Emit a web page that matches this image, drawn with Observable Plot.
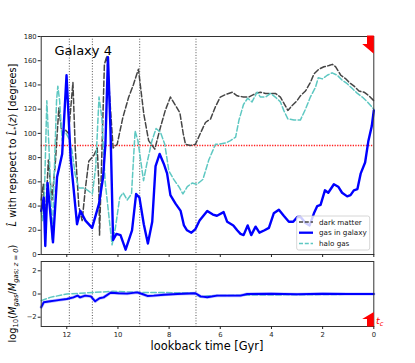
<!DOCTYPE html>
<html>
<head>
<meta charset="utf-8">
<script src="https://cdn.jsdelivr.net/npm/d3@7"></script>
<script src="https://cdn.jsdelivr.net/npm/@observablehq/plot@0.6"></script>
<style>
  html, body { margin: 0; padding: 0; background: #fff; }
  #chart { position: relative; width: 415px; height: 363px; font-family: "DejaVu Sans", sans-serif; }
  #chart svg { display: block; position: absolute; left: 0; }
</style>
</head>
<body>
<div id="chart"></div>
<script>
// ---------- data ----------
const galaxyName = "Galaxy 4";
const seriesNames = ["dark matter", "gas in galaxy", "halo gas"];

const dmTime  = [13.0,12.92,12.84,12.72,12.58,12.45,12.31,12.19,12.06,11.93,11.76,11.67,11.53,11.4,11.27,11.14,10.94,10.81,10.75,10.72,10.62,10.53,10.43,10.19,10.03,9.81,9.58,9.4,9.2,8.99,8.8,8.56,8.34,8.15,7.95,7.75,7.58,7.45,7.36,7.17,6.97,6.78,6.58,6.38,6.19,6.0,5.8,5.53,5.34,5.09,4.89,4.62,4.43,4.23,4.03,3.85,3.65,3.49,3.36,3.19,3.0,2.87,2.67,2.48,2.34,2.15,1.95,1.75,1.62,1.49,1.29,1.09,0.96,0.77,0.58,0.38,0.19,0];
const dmAngle = [45,58,28,78,45,75,121,100,103,100,142,88,40,28,55,77,82,88,60,16,90,157,164,88,91,113,130,140,153,116,94,87,105,119,130,123,117,100,91,90,91,100,109,112,122,130,132,134,131,130,130,133,134,133,133,133,130,124,119,123,127,131,135,142,149,153,155,156,157,155,148,145,142,139,135,134,131,127];

const gasTime  = [13.0,12.9,12.84,12.75,12.54,12.38,12.18,12.01,11.85,11.6,11.47,11.27,11.01,10.74,10.58,10.49,10.39,10.29,10.19,10.06,9.9,9.7,9.45,9.29,9.16,8.99,8.83,8.66,8.53,8.37,8.21,8.08,7.95,7.75,7.55,7.42,7.3,7.13,6.97,6.81,6.51,6.29,6.13,5.87,5.73,5.49,5.34,5.21,5.09,4.93,4.79,4.62,4.47,4.27,4.1,3.91,3.71,3.52,3.32,3.15,2.99,2.86,2.67,2.51,2.34,2.21,2.08,1.91,1.78,1.56,1.39,1.24,1.04,0.91,0.78,0.64,0.51,0.34,0.21,0.08,0];
const gasAngle = [36,47,7,59,10,64,83,148,80,25,36,28,22,42,64,91,163,102,12,17,16,4,20,50,47,25,9,27,73,83,75,67,49,42,36,24,20,18,21,28,36,33,32,35,27,24,20,17,16,24,16,23,18,20,22,34,37,32,27,27,31,31,26,24,34,40,41,53,51,58,56,51,48,49,53,54,67,76,94,106,119];

const haloTime  = [13.0,12.95,12.88,12.78,12.7,12.64,12.57,12.5,12.4,12.35,12.28,12.18,12.1,12.0,11.9,11.8,11.67,11.53,11.36,11.18,11.0,10.87,10.74,10.63,10.5,10.23,10.1,9.93,9.8,9.64,9.47,9.33,9.22,9.0,8.87,8.67,8.51,8.34,8.17,8.01,7.82,7.62,7.46,7.29,7.1,6.91,6.68,6.45,6.29,6.19,6.06,5.8,5.6,5.4,5.27,5.09,4.93,4.76,4.56,4.43,4.23,4.03,3.85,3.65,3.52,3.36,3.12,2.87,2.67,2.48,2.28,2.17,2.01,1.82,1.63,1.43,1.24,1.04,0.84,0.64,0.45,0.25,0];
const haloAngle = [35,28,45,127,90,60,12,60,127,139,127,94,102,99,95,86,66,55,55,53,50,72,130,113,60,8,22,47,51,45,50,102,94,61,75,94,104,101,91,69,62,56,50,56,59,58,62,78,86,91,91,92,94,97,111,124,129,126,134,130,130,133,130,126,119,112,111,111,120,130,138,146,145,148,150,148,144,141,137,133,130,126,120];

const massTime = [13.0,12.9,12.65,12.46,12.26,12.0,11.74,11.58,11.48,11.28,11.06,10.89,10.72,10.56,10.29,9.97,9.64,9.25,9.05,8.85,8.6,8.2,7.68,6.97,6.77,6.51,6.13,5.21,4.95,4.0,3.0,2.0,1.0,0];
const gasMass  = [-1.14,-0.71,-0.63,-0.57,-0.51,-0.43,-0.29,-0.14,-0.29,-0.14,-0.2,-0.63,-0.37,-0.29,0.11,0.06,0.03,0.14,0,-0.17,-0.14,-0.06,0,0.06,-0.2,-0.28,-0.14,-0.14,0,0.02,-0.02,0.02,0,0];
const haloMassTime = [13.0,12.65,12.0,11.5,10.2,9.15,7.05,6.9,6.77,6.5,5.0,2.0,0];
const haloMass     = [-0.57,-0.29,0,0.06,0.23,0.14,0.1,-0.1,-0.28,-0.15,-0.1,-0.05,0];

const eventTimes = [11.9, 11.0, 9.15, 6.95];   // vertical dotted lines
const refAngle = [90];                          // red dotted line
const tcTimes = [0];                            // t_c arrows
const xTicks = [0,2,4,6,8,10,12];
const yTicksTop = [0,20,40,60,80,100,120,140,160,180];
const yTicksBottom = [-2,0,2];

// ---------- styling ----------
const W = 415;
const mL = 40.7, mR = 415 - 373.3;
const font = "DejaVu Sans";
const cDM = "#454545", cGas = "#0000ff", cHalo = "#5ec8c2";
const dash = "5.5,2.4";

const rows = (t, v) => t.map((d, i) => ({t: d, v: v[i]}));
const dm = rows(dmTime, dmAngle), gas = rows(gasTime, gasAngle), halo = rows(haloTime, haloAngle);
const gm = rows(massTime, gasMass), hm = rows(haloMassTime, haloMass);

const arrowDown = {draw(ctx) { ctx.moveTo(0,-1); ctx.lineTo(-6.8,-1); ctx.lineTo(-6.8,7.5); ctx.lineTo(-11.6,7.5); ctx.lineTo(0,17.3); ctx.closePath(); }};
const arrowUp   = {draw(ctx) { ctx.moveTo(0,0); ctx.lineTo(0,-14.5); ctx.lineTo(-11.6,-7.5); ctx.lineTo(-6.8,-7.5); ctx.lineTo(-6.8,0); ctx.closePath(); }};

const common = {
  width: W, marginLeft: mL, marginRight: mR,
  style: {fontFamily: font, fontSize: "6.8px", color: "#222", background: "white", overflow: "visible"}
};

const topPlot = Plot.plot({
  ...common,
  height: 258, marginTop: 36, marginBottom: 4,
  x: {domain: [13, 0]},
  y: {domain: [0, 180]},
  marks: [
    Plot.ruleX(eventTimes, {stroke: "#555", strokeWidth: 1, strokeDasharray: "1,1.7"}),
    Plot.ruleY(refAngle, {stroke: "#ff2020", strokeWidth: 1.3, strokeDasharray: "1.3,1.3"}),
    Plot.line(dm, {x: "t", y: "v", stroke: cDM, strokeWidth: 1.5, strokeDasharray: dash, strokeLinejoin: "round"}),
    Plot.line(halo, {x: "t", y: "v", stroke: cHalo, strokeWidth: 1.5, strokeDasharray: dash, strokeLinejoin: "round"}),
    Plot.line(gas, {x: "t", y: "v", stroke: cGas, strokeWidth: 2.4, strokeLinejoin: "round"}),
    Plot.text([galaxyName], {frameAnchor: "top-left", dx: 13.3, dy: 9, lineAnchor: "top", textAnchor: "start", fontSize: 13, fill: "black"}),
    Plot.frame({stroke: "#333", strokeWidth: 1}),
    Plot.axisY({ticks: yTicksTop, tickSize: 3, tickPadding: 1.5, label: null}),
    Plot.axisX({ticks: xTicks, tickSize: 3, tickFormat: () => "", label: null}),
    Plot.dot(tcTimes, {x: d => d, frameAnchor: "top", symbol: arrowDown, fill: "red", stroke: "none", r: 5})
  ]
});

const bottomPlot = Plot.plot({
  ...common,
  height: 105, marginTop: 3, marginBottom: 37,
  x: {domain: [13, 0]},
  y: {domain: [-2.8, 2.8]},
  marks: [
    Plot.ruleX(eventTimes, {stroke: "#555", strokeWidth: 1, strokeDasharray: "1,1.7"}),
    Plot.line(hm, {x: "t", y: "v", stroke: cHalo, strokeWidth: 1.5, strokeDasharray: dash, strokeLinejoin: "round"}),
    Plot.line(gm, {x: "t", y: "v", stroke: "#7f7fff", strokeWidth: 3.2, strokeOpacity: 0.5, strokeLinejoin: "round"}),
    Plot.line(gm, {x: "t", y: "v", stroke: cGas, strokeWidth: 1.9, strokeLinejoin: "round"}),
    Plot.frame({stroke: "#333", strokeWidth: 1}),
    Plot.axisY({ticks: yTicksBottom, tickSize: 3, tickPadding: 1.5, tickFormat: d => d < 0 ? "\u2212" + Math.abs(d) : String(d), label: null}),
    Plot.axisX({ticks: xTicks, tickSize: 3, tickPadding: 2.5, label: null}),
    Plot.dot(tcTimes, {x: d => d, frameAnchor: "bottom", symbol: arrowUp, fill: "red", stroke: "none", r: 5})
  ]
});

const chart = document.getElementById("chart");
topPlot.style.top = "0px";
bottomPlot.style.top = "258px";
chart.appendChild(topPlot);
chart.appendChild(bottomPlot);

// ---------- labels (real text) ----------
const sTop = d3.select(topPlot);
const yl = sTop.append("text")
  .attr("transform", "translate(13,145) rotate(-90)")
  .attr("text-anchor", "middle").attr("dominant-baseline", "middle")
  .attr("font-family", font).attr("font-size", 9.8).attr("fill", "black");
yl.append("tspan").attr("font-style", "italic").text("L\u0302");
yl.append("tspan").text(" with repspect to ");
yl.append("tspan").attr("font-style", "italic").text("L\u0302");
yl.append("tspan").attr("font-size", 6.5).attr("dy", 2.5).text("*");
yl.append("tspan").attr("dy", -2.5).text("(");
yl.append("tspan").attr("font-style", "italic").text("z");
yl.append("tspan").text(") [degrees]");

// legend
const lg = sTop.append("g").attr("font-family", font).attr("font-size", 7.2).attr("text-anchor", "start");
lg.append("rect").attr("x", 296.7).attr("y", 216).attr("width", 73).attr("height", 34)
  .attr("rx", 2).attr("fill", "white").attr("fill-opacity", 0.8).attr("stroke", "#cccccc").attr("stroke-width", 0.8);
const items = [
  {name: seriesNames[0], color: cDM, w: 1.5, dash: "4,1.8"},
  {name: seriesNames[1], color: cGas, w: 2.3, dash: null},
  {name: seriesNames[2], color: cHalo, w: 1.5, dash: "4,1.8"}
];
items.forEach((it, i) => {
  const y = 222 + i * 10.7;
  const ln = lg.append("line").attr("x1", 299).attr("x2", 313).attr("y1", y).attr("y2", y)
    .attr("stroke", it.color).attr("stroke-width", it.w);
  if (it.dash) ln.attr("stroke-dasharray", it.dash);
  lg.append("text").attr("x", 319).attr("y", y).attr("dy", "0.35em").attr("fill", "#111")
    .attr("text-anchor", "start").text(it.name);
});

const sBot = d3.select(bottomPlot);
const yl2 = sBot.append("text")
  .attr("transform", "translate(13,35.5) rotate(-90)")
  .attr("text-anchor", "middle").attr("dominant-baseline", "middle")
  .attr("font-family", font).attr("font-size", 9.8).attr("fill", "black");
yl2.append("tspan").text("log");
yl2.append("tspan").attr("font-size", 6.8).attr("dy", 2.5).text("10");
yl2.append("tspan").attr("dy", -2.5).text("(");
yl2.append("tspan").attr("font-style", "italic").text("M");
yl2.append("tspan").attr("font-size", 6.8).attr("dy", 2.5).attr("font-style", "italic").text("gas");
yl2.append("tspan").attr("dy", -2.5).text("/");
yl2.append("tspan").attr("font-style", "italic").text("M");
yl2.append("tspan").attr("font-size", 6.8).attr("dy", 2.5).attr("font-style", "italic").text("gas; z = 0");
yl2.append("tspan").attr("dy", -2.5).text(")");

sBot.append("text").attr("x", 207).attr("y", 91.5).attr("text-anchor", "middle")
  .attr("font-family", font).attr("font-size", 11.4).attr("fill", "black").text("lookback time [Gyr]");

const tc = sBot.append("text").attr("x", 376).attr("y", 65.5).attr("font-family", font)
  .attr("font-size", 9.5).attr("fill", "red").attr("text-anchor", "start");
tc.append("tspan").attr("font-style", "italic").text("t");
tc.append("tspan").attr("font-size", 6.8).attr("dy", 2.5).attr("font-style", "italic").text("c");
</script>
</body>
</html>
